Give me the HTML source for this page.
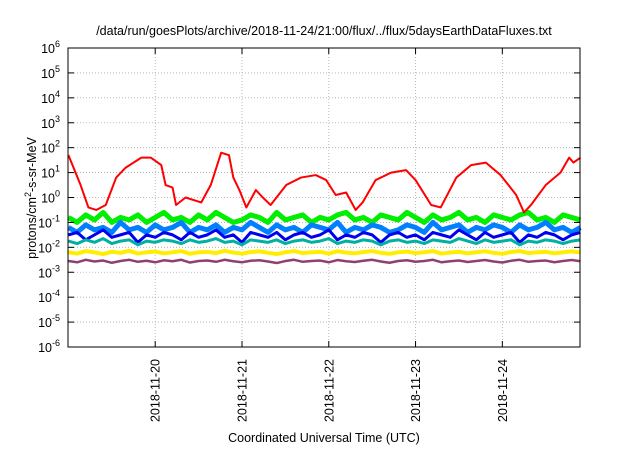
<!DOCTYPE html>
<html><head><meta charset="utf-8"><style>
body{margin:0;background:#fff;font-family:"Liberation Sans",sans-serif;}
svg text{font-family:"Liberation Sans",sans-serif;fill:#000;}
</style></head><body>
<svg width="640" height="448" viewBox="0 0 640 448" xmlns="http://www.w3.org/2000/svg">
<rect width="640" height="448" fill="#fff"/>
<text x="324" y="35" font-size="12.5" text-anchor="middle">/data/run/goesPlots/archive/2018-11-24/21:00/flux/../flux/5daysEarthDataFluxes.txt</text>
<g id="grid"></g><g id="series"></g><g id="axes"></g>
<text transform="translate(36,198) rotate(-90)" font-size="12.5" text-anchor="middle">protons/cm<tspan dy="-5" font-size="9">2</tspan><tspan dy="5">-s-sr-MeV</tspan></text>
<text x="324" y="442" font-size="12.5" text-anchor="middle">Coordinated Universal Time (UTC)</text>
</svg>
<script>
const xTickLabels=["2018-11-20","2018-11-21","2018-11-22","2018-11-23","2018-11-24"];
const xTickDays=[1,2,3,4,5];
const yExponents=[-6,-5,-4,-3,-2,-1,0,1,2,3,4,5,6];
const redDays=[0,0.14,0.23,0.32,0.43,0.55,0.66,0.84,0.95,1.07,1.12,1.2,1.24,1.35,1.53,1.64,1.76,1.85,1.9,1.97,2.05,2.16,2.24,2.33,2.51,2.68,2.85,2.97,3.08,3.2,3.31,3.39,3.54,3.72,3.89,4.0,4.18,4.29,4.47,4.64,4.81,4.98,5.16,5.25,5.33,5.5,5.67,5.77,5.82,5.9];
const redLog=[1.7,0.5,-0.4,-0.5,-0.3,0.8,1.2,1.6,1.6,1.3,0.5,0.4,-0.3,0.0,-0.2,0.5,1.8,1.7,0.8,0.3,-0.4,0.3,0.0,-0.3,0.5,0.8,0.9,0.7,0.1,0.2,-0.5,-0.2,0.7,1.0,1.1,0.7,-0.3,-0.4,0.8,1.3,1.4,0.9,0.1,-0.6,-0.3,0.5,1.0,1.6,1.4,1.6];
const greenLog=[-0.8,-1.0,-0.7,-0.9,-0.6,-1.0,-0.8,-0.9,-0.7,-1.0,-0.8,-0.6,-0.9,-0.8,-1.0,-0.7,-0.9,-0.6,-0.8,-1.0,-0.9,-0.7,-0.8,-1.0,-0.6,-0.9,-0.8,-0.7,-1.0,-0.8,-0.9,-0.7,-0.6,-0.9,-0.8,-1.0,-0.7,-0.8,-0.9,-0.6,-0.8,-1.0,-0.7,-0.9,-0.8,-0.6,-0.9,-0.8,-1.0,-0.7,-0.8,-0.9,-0.7,-0.6,-0.9,-0.8,-1.0,-0.7,-0.8,-0.9];
const lightBlueLog=[-1.2,-1.4,-1.1,-1.3,-1.2,-1.4,-1.0,-1.3,-1.2,-1.4,-1.1,-1.3,-1.2,-1.0,-1.4,-1.2,-1.3,-1.1,-1.4,-1.2,-1.3,-1.0,-1.2,-1.4,-1.1,-1.3,-1.2,-1.4,-1.1,-1.2,-1.3,-1.0,-1.4,-1.2,-1.3,-1.1,-1.2,-1.4,-1.3,-1.1,-1.2,-1.4,-1.0,-1.3,-1.2,-1.1,-1.4,-1.2,-1.3,-1.1,-1.2,-1.4,-1.1,-1.3,-1.2,-1.0,-1.3,-1.2,-1.4,-1.2];
const blueLog=[-1.5,-1.4,-1.7,-1.5,-1.3,-1.6,-1.5,-1.4,-1.8,-1.5,-1.6,-1.4,-1.5,-1.7,-1.4,-1.6,-1.5,-1.3,-1.6,-1.5,-1.8,-1.4,-1.5,-1.6,-1.4,-1.7,-1.5,-1.4,-1.6,-1.5,-1.3,-1.7,-1.5,-1.6,-1.4,-1.5,-1.8,-1.5,-1.4,-1.6,-1.5,-1.7,-1.4,-1.5,-1.6,-1.3,-1.5,-1.7,-1.4,-1.6,-1.5,-1.4,-1.8,-1.5,-1.6,-1.4,-1.5,-1.7,-1.5,-1.4];
const tealLog=[-1.75,-1.85,-1.7,-1.8,-1.65,-1.85,-1.75,-1.7,-1.9,-1.75,-1.8,-1.7,-1.75,-1.85,-1.7,-1.8,-1.75,-1.65,-1.8,-1.75,-1.9,-1.7,-1.75,-1.8,-1.7,-1.85,-1.75,-1.7,-1.8,-1.75,-1.65,-1.85,-1.75,-1.8,-1.7,-1.75,-1.9,-1.75,-1.7,-1.8,-1.75,-1.85,-1.7,-1.75,-1.8,-1.65,-1.75,-1.85,-1.7,-1.8,-1.75,-1.7,-1.9,-1.75,-1.8,-1.7,-1.75,-1.85,-1.75,-1.7];
const yellowLog=[-2.2,-2.25,-2.15,-2.2,-2.27,-2.18,-2.22,-2.14,-2.25,-2.2,-2.17,-2.24,-2.2,-2.15,-2.26,-2.2,-2.18,-2.23,-2.14,-2.21,-2.25,-2.19,-2.16,-2.22,-2.27,-2.2,-2.15,-2.23,-2.2,-2.18,-2.25,-2.16,-2.21,-2.24,-2.19,-2.15,-2.22,-2.26,-2.2,-2.17,-2.23,-2.2,-2.15,-2.25,-2.21,-2.18,-2.24,-2.2,-2.16,-2.22,-2.26,-2.19,-2.15,-2.23,-2.2,-2.18,-2.24,-2.2,-2.16,-2.21];
const purpleLog=[-2.55,-2.6,-2.5,-2.57,-2.53,-2.62,-2.55,-2.5,-2.58,-2.54,-2.6,-2.52,-2.56,-2.5,-2.61,-2.55,-2.53,-2.58,-2.5,-2.56,-2.6,-2.54,-2.52,-2.57,-2.63,-2.55,-2.5,-2.58,-2.55,-2.53,-2.6,-2.51,-2.56,-2.59,-2.54,-2.5,-2.57,-2.62,-2.55,-2.52,-2.58,-2.55,-2.5,-2.6,-2.56,-2.53,-2.59,-2.55,-2.51,-2.57,-2.61,-2.54,-2.5,-2.58,-2.55,-2.53,-2.6,-2.55,-2.51,-2.56];
const L=68,R=580,T=48,B=347,DAY0=-0.005,DAYS=5.9;
const X=d=>L+(d-DAY0)/DAYS*(R-L);
const Y=e=>B-(e+6)/12*(B-T);
const NS="http://www.w3.org/2000/svg";
function mk(t,a,p){const e=document.createElementNS(NS,t);for(const k in a)e.setAttribute(k,a[k]);p.appendChild(e);return e;}
const grid=document.getElementById('grid'),axes=document.getElementById('axes'),ser=document.getElementById('series');
yExponents.forEach(ex=>{const y=Y(ex);
 if(ex>-6&&ex<6){const g=mk('line',{x1:L,x2:R,y1:y,y2:y,stroke:'#aaa','stroke-dasharray':'1,2','stroke-width':0.8},grid);
 
 }
 const t1=mk('line',{x1:L,x2:L+6,y1:y,y2:y,stroke:'#000'},axes);
 
 
 const t2=mk('line',{x1:R-6,x2:R,y1:y,y2:y,stroke:'#000'},axes);
 
 
 const tx=mk('text',{x:L-8,y:y+5,'font-size':12.5,'text-anchor':'end'},axes);
 
 
 tx.innerHTML='10<tspan dy="-6" font-size="9">'+ex+'</tspan>';});
xTickDays.forEach((d,i)=>{const x=X(d);
 const g=mk('line',{x1:x,x2:x,y1:T,y2:B,stroke:'#aaa','stroke-dasharray':'1,2','stroke-width':0.8},grid);
 
 
 const t1=mk('line',{x1:x,x2:x,y1:B-6,y2:B,stroke:'#000'},axes);
 
 
 const t2=mk('line',{x1:x,x2:x,y1:T,y2:T+6,stroke:'#000'},axes);
 
 
 const tx=mk('text',{transform:`translate(${x+4.5},${B+12}) rotate(-90)`,'font-size':12.5,'text-anchor':'end'},axes);
 
 
 tx.textContent=xTickLabels[i];});
const fr=mk('rect',{x:L,y:T,width:R-L,height:B-T,fill:'none',stroke:'#000','stroke-width':1},axes);


function line(vals,days,color,name,w){const pts=vals.map((v,i)=>X(days?days[i]:i*DAYS/(vals.length-1))+','+Y(v)).join(' ');
 const p=mk('polyline',{points:pts,fill:'none',stroke:color,'stroke-width':w,'stroke-linejoin':'round'},ser);
 
 }
line(greenLog,null,'#00ee00','series-green',5);
line(lightBlueLog,null,'#0080ff','series-light-blue',5);
line(blueLog,null,'#0000ee','series-blue',3);
line(tealLog,null,'#00b0a0','series-teal',3);
line(yellowLog,null,'#ffee00','series-yellow',4);
line(purpleLog,null,'#904070','series-purple',2.5);
line(redLog,redDays,'#ff0000','series-red',2);
</script>
</body></html>
